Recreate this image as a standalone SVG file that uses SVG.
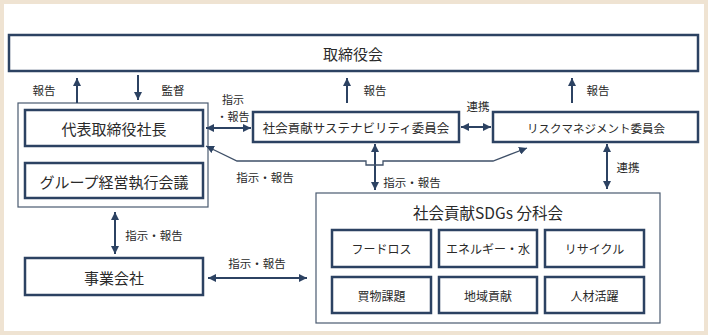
<svg xmlns="http://www.w3.org/2000/svg" width="708" height="335" viewBox="0 0 708 335">
<style>
text{font-family:"Noto Sans CJK JP","Noto Sans",sans-serif;fill:#2a2a2a;text-anchor:middle;dominant-baseline:central}
.box{fill:#fff;stroke:#2c4262;stroke-width:2.5}
.thin{fill:none;stroke:#4a5a70;stroke-width:1.2}
.arr{fill:none;stroke:#2c4262;stroke-width:2;marker-end:url(#ah)}
.dbl{fill:none;stroke:#2c4262;stroke-width:2;marker-start:url(#ah);marker-end:url(#ah)}
.diag{fill:none;stroke:#3f5068;stroke-width:1.3;marker-start:url(#ah);marker-end:url(#ah)}
.t15{font-size:15px}
.t12{font-size:12px}
.lb{font-size:11.5px}
</style>
<defs>
<marker id="ah" viewBox="0 0 10 10" refX="10" refY="5" markerUnits="userSpaceOnUse" markerWidth="8" markerHeight="8" orient="auto-start-reverse">
<path d="M0,0 L10,5 L0,10 z" fill="#2c4262"/>
</marker>
</defs>
<rect x="2" y="2" width="704" height="331" fill="#fff" stroke="#efe3d2" stroke-width="4"/>
<g id="board"><rect class="box" x="9" y="35" width="689" height="36"/><text class="t15" x="353" y="53">取締役会</text></g>
<g id="exec-group"><rect class="thin" x="18" y="103" width="190" height="104"/></g>
<g id="president"><rect class="box" x="25" y="110" width="178" height="36"/><text class="t15" x="114" y="128">代表取締役社長</text></g>
<g id="group-meeting"><rect class="box" x="25" y="163" width="178" height="35"/><text class="t15" x="114" y="181">グループ経営執行会議</text></g>
<g id="companies"><rect class="box" x="25" y="258" width="178" height="37"/><text class="t15" x="114" y="277">事業会社</text></g>
<g id="sustainability"><rect class="box" x="253" y="112" width="206" height="30"/><text x="356" y="127.5" style="font-size:12.5px">社会貢献サステナビリティ委員会</text></g>
<g id="risk"><rect class="box" x="493" y="112" width="205" height="30"/><text x="596" y="127.5" style="font-size:11.5px">リスクマネジメント委員会</text></g>
<g id="sdgs"><rect class="thin" x="316" y="193" width="344" height="130"/><text x="488" y="212" style="font-size:15.5px">社会貢献SDGs 分科会</text></g>
<g id="food-loss"><rect class="box" x="332" y="230" width="99" height="37"/><text class="t12" x="381.5" y="248.5">フードロス</text></g>
<g id="energy"><rect class="box" x="439" y="230" width="98" height="37"/><text class="t12" x="488" y="248.5">エネルギー・水</text></g>
<g id="recycle"><rect class="box" x="545" y="230" width="99" height="37"/><text class="t12" x="594.5" y="248.5">リサイクル</text></g>
<g id="shopping"><rect class="box" x="332" y="277" width="99" height="36"/><text class="t12" x="381.5" y="295">買物課題</text></g>
<g id="community"><rect class="box" x="439" y="277" width="98" height="36"/><text class="t12" x="488" y="295">地域貢献</text></g>
<g id="talent"><rect class="box" x="545" y="277" width="99" height="36"/><text class="t12" x="594.5" y="295">人材活躍</text></g>
<g id="connectors">
<path class="arr" d="M77,103 V78"/>
<path class="arr" d="M138,75 V100"/>
<path class="arr" d="M347,103 V78"/>
<path class="arr" d="M572,103 V78"/>
<path class="dbl" d="M206,128 H251"/>
<path class="dbl" d="M461,127 H491"/>
<path class="dbl" d="M115,212 V254"/>
<path class="dbl" d="M208,278 H307"/>
<path class="dbl" d="M375,144 V190"/>
<path class="dbl" d="M607,144 V189"/>
<path class="diag" d="M527,148 L493,161 H383 V165 H366 V161 H237 L206,146"/>
<text class="lb" x="44" y="90">報告</text>
<text class="lb" x="173" y="90">監督</text>
<text class="lb" x="233" y="99" style="font-size:11px">指示</text>
<text class="lb" x="233" y="116" style="font-size:11px">・報告</text>
<text class="lb" x="375" y="90">報告</text>
<text class="lb" x="478" y="106">連携</text>
<text class="lb" x="598" y="90">報告</text>
<text class="lb" x="265" y="177">指示・報告</text>
<text class="lb" x="412" y="182">指示・報告</text>
<text class="lb" x="628" y="167">連携</text>
<text class="lb" x="154" y="235">指示・報告</text>
<text class="lb" x="257" y="263">指示・報告</text>
</g>
</svg>
